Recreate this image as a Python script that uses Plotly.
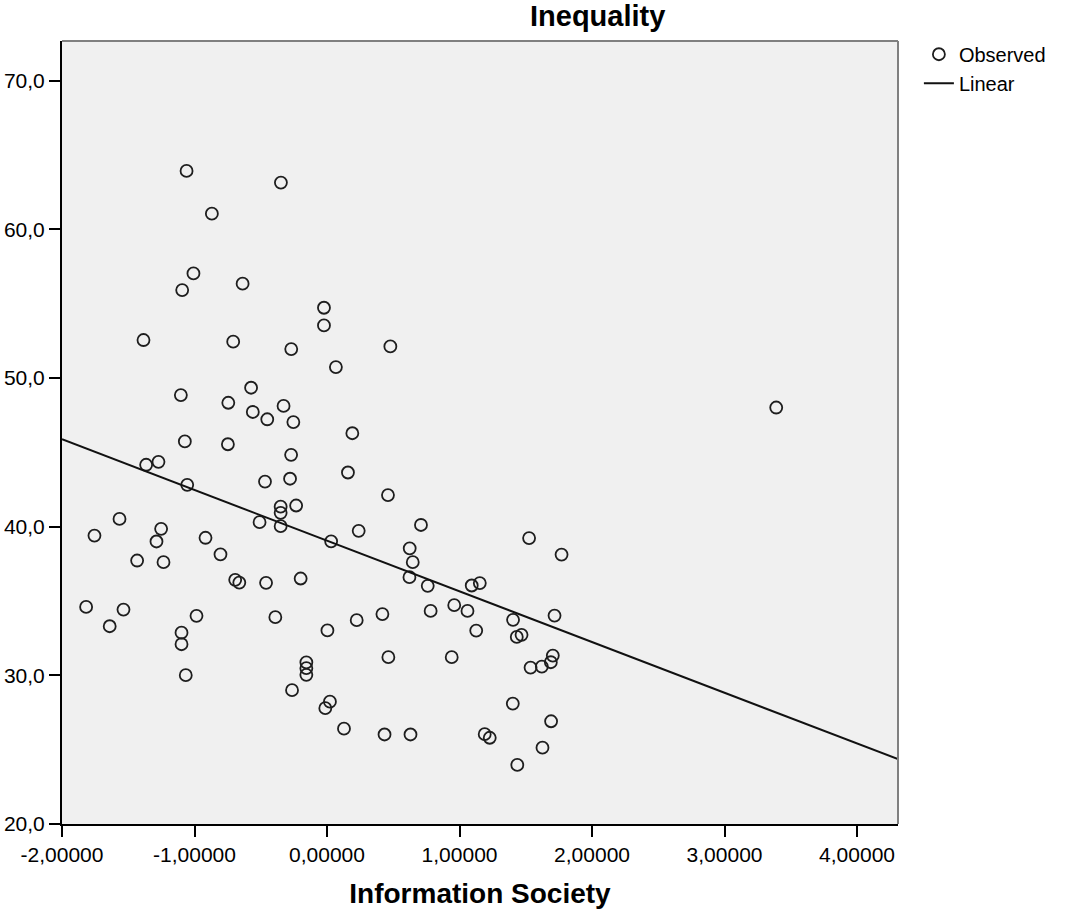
import numpy as np
import plotly.graph_objects as go

# Observed data: Information Society (x) vs Inequality (y)
info_society = [
    -1.060, -0.348, -0.869, -1.008, -1.093, -0.637, -0.023, -0.023, -1.385, -0.708,
    -0.270, 0.478, 0.067, -0.573, -1.103, -0.745, -0.328, -0.560, -0.451, -0.254,
    3.390, 0.191, -1.073, -0.748, -0.271, -1.365, -1.272, 0.158, -0.279, -1.055,
    -0.468, 0.460, -1.566, -0.509, -0.350, -0.233, -0.350, -0.350, 0.709, -1.755,
    -1.252, -1.287, -0.917, 0.031, 0.239, 1.525, -1.433, -1.234, -0.804, 0.624,
    0.647, 1.770, -0.693, -0.662, -0.460, -0.199, 0.622, 0.760, 1.092, 1.153,
    -1.818, -1.536, -0.985, -0.390, 0.418, 0.224, 0.782, 0.960, 1.060, 1.404,
    1.717, -1.640, 0.003, 1.126, 1.432, 1.468, -1.098, -1.098, 0.463, 0.941,
    1.536, 1.621, 1.689, 1.704, -1.066, -0.156, -0.156, -0.156, -0.264, 0.022,
    -0.013, 1.402, 1.691, 0.128, 0.434, 0.630, 1.190, 1.228, 1.626, 1.436,
]
inequality = [
    63.92, 63.14, 61.05, 57.03, 55.91, 56.34, 54.72, 53.53, 52.55, 52.44,
    51.94, 52.12, 50.73, 49.34, 48.85, 48.33, 48.12, 47.71, 47.22, 47.03,
    48.01, 46.28, 45.73, 45.54, 44.83, 44.16, 44.36, 43.64, 43.22, 42.81,
    43.03, 42.12, 40.52, 40.30, 41.35, 41.42, 40.93, 40.03, 40.11, 39.40,
    39.85, 39.00, 39.25, 39.01, 39.72, 39.23, 37.72, 37.61, 38.14, 38.54,
    37.61, 38.12, 36.42, 36.24, 36.22, 36.51, 36.60, 36.02, 36.04, 36.20,
    34.60, 34.42, 34.00, 33.91, 34.12, 33.71, 34.33, 34.72, 34.33, 33.73,
    34.02, 33.30, 33.02, 33.01, 32.58, 32.72, 32.87, 32.09, 31.22, 31.22,
    30.52, 30.59, 30.88, 31.33, 30.01, 30.87, 30.48, 30.03, 29.00, 28.23,
    27.79, 28.10, 26.91, 26.41, 26.02, 26.02, 26.04, 25.80, 25.13, 23.97,
]

x_tickvals = [-2, -1, 0, 1, 2, 3, 4]
x_ticktext = ["-2,00000", "-1,00000", "0,00000", "1,00000", "2,00000", "3,00000", "4,00000"]
y_tickvals = [20, 30, 40, 50, 60, 70]
y_ticktext = ["20,0", "30,0", "40,0", "50,0", "60,0", "70,0"]

x_range = [-2.0, 4.309]
y_range = [20.0, 72.66]

# Linear fit computed from the observed data
slope, intercept = np.polyfit(info_society, inequality, 1)
line_x = np.array(x_range)
line_y = intercept + slope * line_x

FONT = "Liberation Sans, Arial, sans-serif"

fig = go.Figure()
fig.add_trace(go.Scatter(
    x=info_society, y=inequality, mode="markers", name="Observed",
    marker=dict(symbol="circle-open", size=12, color="#1e1e1e", line=dict(width=1.8, color="#1e1e1e")),
    cliponaxis=False,
))
fig.add_trace(go.Scatter(
    x=line_x, y=line_y, mode="lines", name="Linear",
    line=dict(color="#111111", width=2),
))

fig.update_layout(
    width=1065, height=918,
    margin=dict(l=62, r=167, t=41, b=94, autoexpand=False),
    paper_bgcolor="white",
    plot_bgcolor="#F0F0F0",
    font=dict(family=FONT, size=21, color="#000000"),
    showlegend=True,
    legend=dict(
        x=1.025, xanchor="left", y=1.008, yanchor="top",
        bgcolor="rgba(0,0,0,0)", borderwidth=0,
        font=dict(family=FONT, size=20, color="#000000"),
        itemwidth=30, tracegroupgap=0,
    ),
    annotations=[dict(
        text="<b>Inequality</b>", xref="paper", yref="paper",
        x=0.640, y=1.032, xanchor="center", yanchor="middle",
        showarrow=False, font=dict(family=FONT, size=29, color="#000000"),
    )],
    shapes=[
        dict(type="line", xref="paper", yref="paper", x0=0, x1=1, y0=1, y1=1,
             line=dict(color="#808080", width=2)),
        dict(type="line", xref="paper", yref="paper", x0=1, x1=1, y0=0, y1=1,
             line=dict(color="#808080", width=2)),
    ],
)

fig.update_xaxes(
    range=x_range, tickvals=x_tickvals, ticktext=x_ticktext,
    showgrid=False, zeroline=False, automargin=False,
    showline=True, linecolor="#000000", linewidth=2,
    ticks="outside", ticklen=11, tickwidth=2, tickcolor="#000000",
    tickfont=dict(family=FONT, size=21, color="#000000"),
    title=dict(text="<b>Information Society</b>", standoff=18,
               font=dict(family=FONT, size=28, color="#000000")),
)
fig.update_yaxes(
    range=y_range, tickvals=y_tickvals, ticktext=y_ticktext,
    showgrid=False, zeroline=False, automargin=False,
    showline=True, linecolor="#000000", linewidth=2,
    ticks="outside", ticklen=11, tickwidth=2, tickcolor="#000000",
    tickfont=dict(family=FONT, size=21, color="#000000"),
)

fig.write_html(
    "out.html",
    config={"displayModeBar": False},
    post_script="document.body.style.margin='0';",
)
